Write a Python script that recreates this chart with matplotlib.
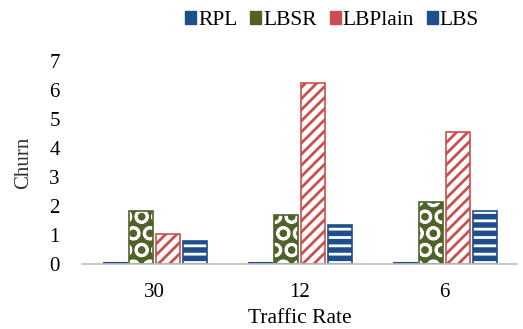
import numpy as np
import matplotlib.pyplot as plt
from matplotlib.patches import Patch

plt.rcParams['font.family'] = ['Liberation Serif', 'DejaVu Serif']
plt.rcParams['hatch.linewidth'] = 2.0

# data
rates = ['30', '12', '6']
rpl = [0.05, 0.05, 0.05]
lbsr = [1.82, 1.70, 2.13]
lbplain = [1.02, 6.22, 4.55]
lbs = [0.78, 1.33, 1.83]

series = ['RPL', 'LBSR', 'LBPlain', 'LBS']

blue = '#1f4e8c'
green = '#4f6228'
red = '#c9504d'

fig = plt.figure(figsize=(5.23, 3.29), dpi=100)
ax = fig.add_axes([0.157, 0.198, 0.832, 0.617])

x = np.arange(len(rates))
w = 0.165
step = 0.184

# RPL: solid
ax.bar(x - 1.5 * step, rpl, w, color=blue, edgecolor=blue, lw=0.8)
# LBSR: green fill with white circles
ax.bar(x - 0.5 * step, lbsr, w, color=green, edgecolor='white', hatch='O', lw=0)
ax.bar(x - 0.5 * step, lbsr, w, fill=False, edgecolor=green, lw=1.2)
# LBPlain: white with red diagonal stripes
ax.bar(x + 0.5 * step, lbplain, w, color='white', edgecolor=red, hatch='///', lw=0)
ax.bar(x + 0.5 * step, lbplain, w, fill=False, edgecolor=red, lw=1.2)
# LBS: blue with white horizontal stripes
ax.bar(x + 1.5 * step, lbs, w, color=blue, edgecolor='white', hatch='--', lw=0)
ax.bar(x + 1.5 * step, lbs, w, fill=False, edgecolor=blue, lw=1.2)

ax.set_xlim(-0.5, 2.5)
ax.set_ylim(0, 7)
ax.set_yticks(range(8))
ax.set_xticks(x)
ax.set_xticklabels(rates)
ax.tick_params(axis='both', length=0, labelsize=15)
ax.tick_params(axis='y', pad=16)
ax.tick_params(axis='x', pad=14)
for s in ['top', 'right', 'left']:
    ax.spines[s].set_visible(False)
ax.spines['bottom'].set_color('#bfbfbf')
ax.spines['bottom'].set_linewidth(1.2)

ax.set_ylabel('Churn', fontsize=15, color='#333333', labelpad=12)
ax.set_xlabel('Traffic Rate', fontsize=15.5, labelpad=5)

# legend with square markers
handles = [
    Patch(facecolor=blue, edgecolor=blue),
    Patch(facecolor=green, edgecolor=green),
    Patch(facecolor=red, edgecolor=red),
    Patch(facecolor=blue, edgecolor=blue),
]
fig.legend(handles, series, loc='upper center', bbox_to_anchor=(0.635, 1.025),
           ncol=4, frameon=False, fontsize=15.5, handlelength=0.5, handleheight=0.5,
           handletextpad=0.1, columnspacing=0.6)

fig.savefig('out.png', dpi=100)
